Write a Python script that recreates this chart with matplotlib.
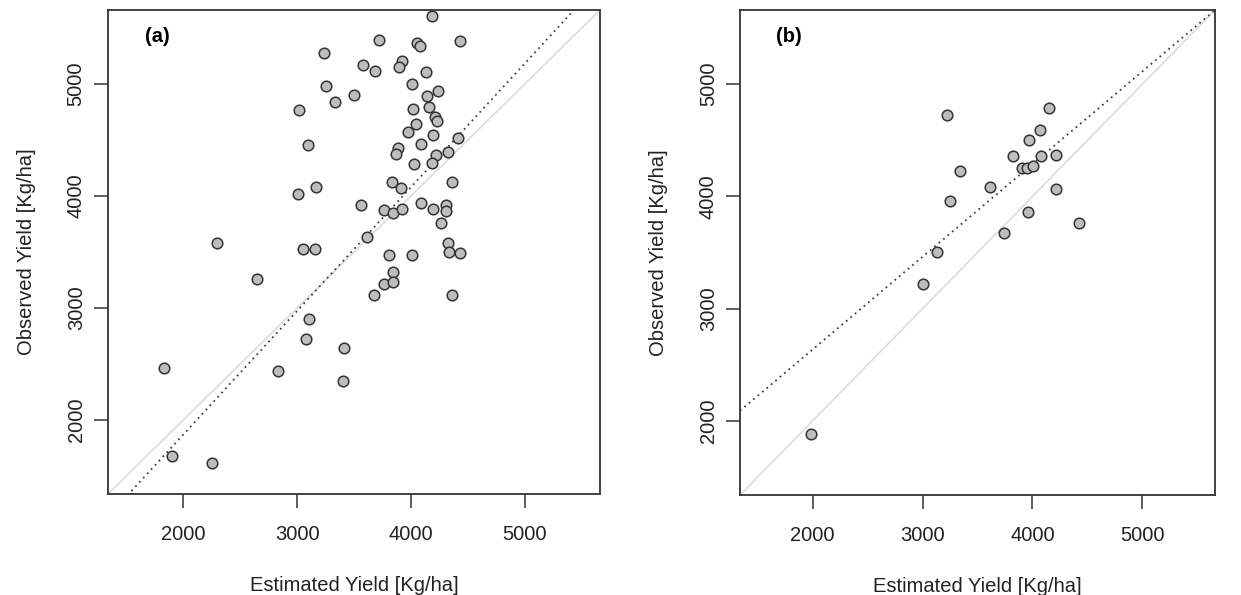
import matplotlib.pyplot as plt

plt.rcParams['font.family'] = ['Liberation Sans', 'DejaVu Sans']

# panel (a) data: estimated vs observed yield
est_a = [4182, 3722, 4056, 4079, 4430, 3236, 3582, 3687, 3921, 3898,
         4132, 3254, 4012, 4234, 4144, 3336, 3497, 3014, 4021, 4156,
         4214, 4226, 4047, 3977, 4193, 4410, 3096, 3886, 3869, 4088,
         4222, 4325, 4024, 4182, 4363, 3831, 3912, 3008, 3163, 3561,
         3761, 3839, 3921, 4085, 4191, 4305, 4305, 4264, 2297, 3055,
         3160, 3617, 3810, 4012, 4322, 4334, 4430, 2648, 3845, 3761,
         3845, 3675, 4363, 3102, 3078, 3409, 1829, 2835, 3401, 1905,
         2256]
obs_a = [5611, 5396, 5364, 5343, 5382, 5275, 5173, 5120, 5206, 5155,
         5108, 4980, 5001, 4938, 4891, 4843, 4900, 4771, 4775, 4793,
         4709, 4673, 4647, 4575, 4545, 4521, 4456, 4432, 4379, 4468,
         4370, 4397, 4286, 4295, 4129, 4126, 4069, 4019, 4078, 3923,
         3876, 3852, 3888, 3935, 3888, 3920, 3870, 3760, 3584, 3525,
         3525, 3632, 3474, 3474, 3581, 3503, 3492, 3262, 3325, 3218,
         3236, 3114, 3114, 2902, 2724, 2644, 2465, 2441, 2352, 1682,
         1614]

# panel (b) data
est_b = [3225, 4149, 4070, 3967, 3822, 4079, 4216, 3901, 3952, 4001,
         3340, 3616, 4213, 3249, 3964, 4422, 3737, 3131, 3007, 1988]
obs_b = [4730, 4792, 4593, 4499, 4361, 4356, 4368, 4255, 4255, 4267,
         4225, 4085, 4062, 3958, 3860, 3765, 3673, 3504, 3216, 1880]

# fitted lines (slope, intercept)
fit_a = (1.105, -341)
fit_b = (0.826, 984)

lims = (1340, 5660)
ticks = [2000, 3000, 4000, 5000]

fig = plt.figure(figsize=(12.41, 5.95), dpi=100)
ax_a = fig.add_axes([0.0870, 0.1697, 0.3965, 0.8134])
ax_b = fig.add_axes([0.5963, 0.1680, 0.3827, 0.8150])

for ax, est, obs, fit, tag in [(ax_a, est_a, obs_a, fit_a, '(a)'),
                               (ax_b, est_b, obs_b, fit_b, '(b)')]:
    ax.plot(lims, lims, color='#dcdcdc', lw=1.2, zorder=1)
    ax.plot(lims, [fit[0] * v + fit[1] for v in lims], color='#404040',
            lw=1.3, linestyle=(0, (1, 2.2)), zorder=2)
    ax.scatter(est, obs, s=58, facecolor='#bdbdbd', edgecolor='#333333',
               linewidth=1.1, zorder=3)
    ax.set_xlim(lims)
    ax.set_ylim(lims)
    ax.set_xticks(ticks)
    ax.set_yticks(ticks)
    ax.tick_params(axis='both', labelsize=14.5, length=10, width=1.1,
                   color='#333333', labelcolor='#222222')
    ax.tick_params(axis='x', pad=12)
    ax.tick_params(axis='y', pad=6)
    for lab in ax.get_yticklabels():
        lab.set_rotation(90)
        lab.set_va('center')
    for sp in ax.spines.values():
        sp.set_color('#333333')
        sp.set_linewidth(1.3)
    ax.set_xlabel('Estimated Yield [Kg/ha]', fontsize=14.5, labelpad=23,
                  color='#222222')
    ax.set_ylabel('Observed Yield [Kg/ha]', fontsize=14.5, labelpad=22,
                  color='#222222')
    ax.text(0.075, 0.945, tag, transform=ax.transAxes, fontsize=14.5,
            fontweight='bold', va='center', ha='left')

fig.savefig('out.png', dpi=100)
